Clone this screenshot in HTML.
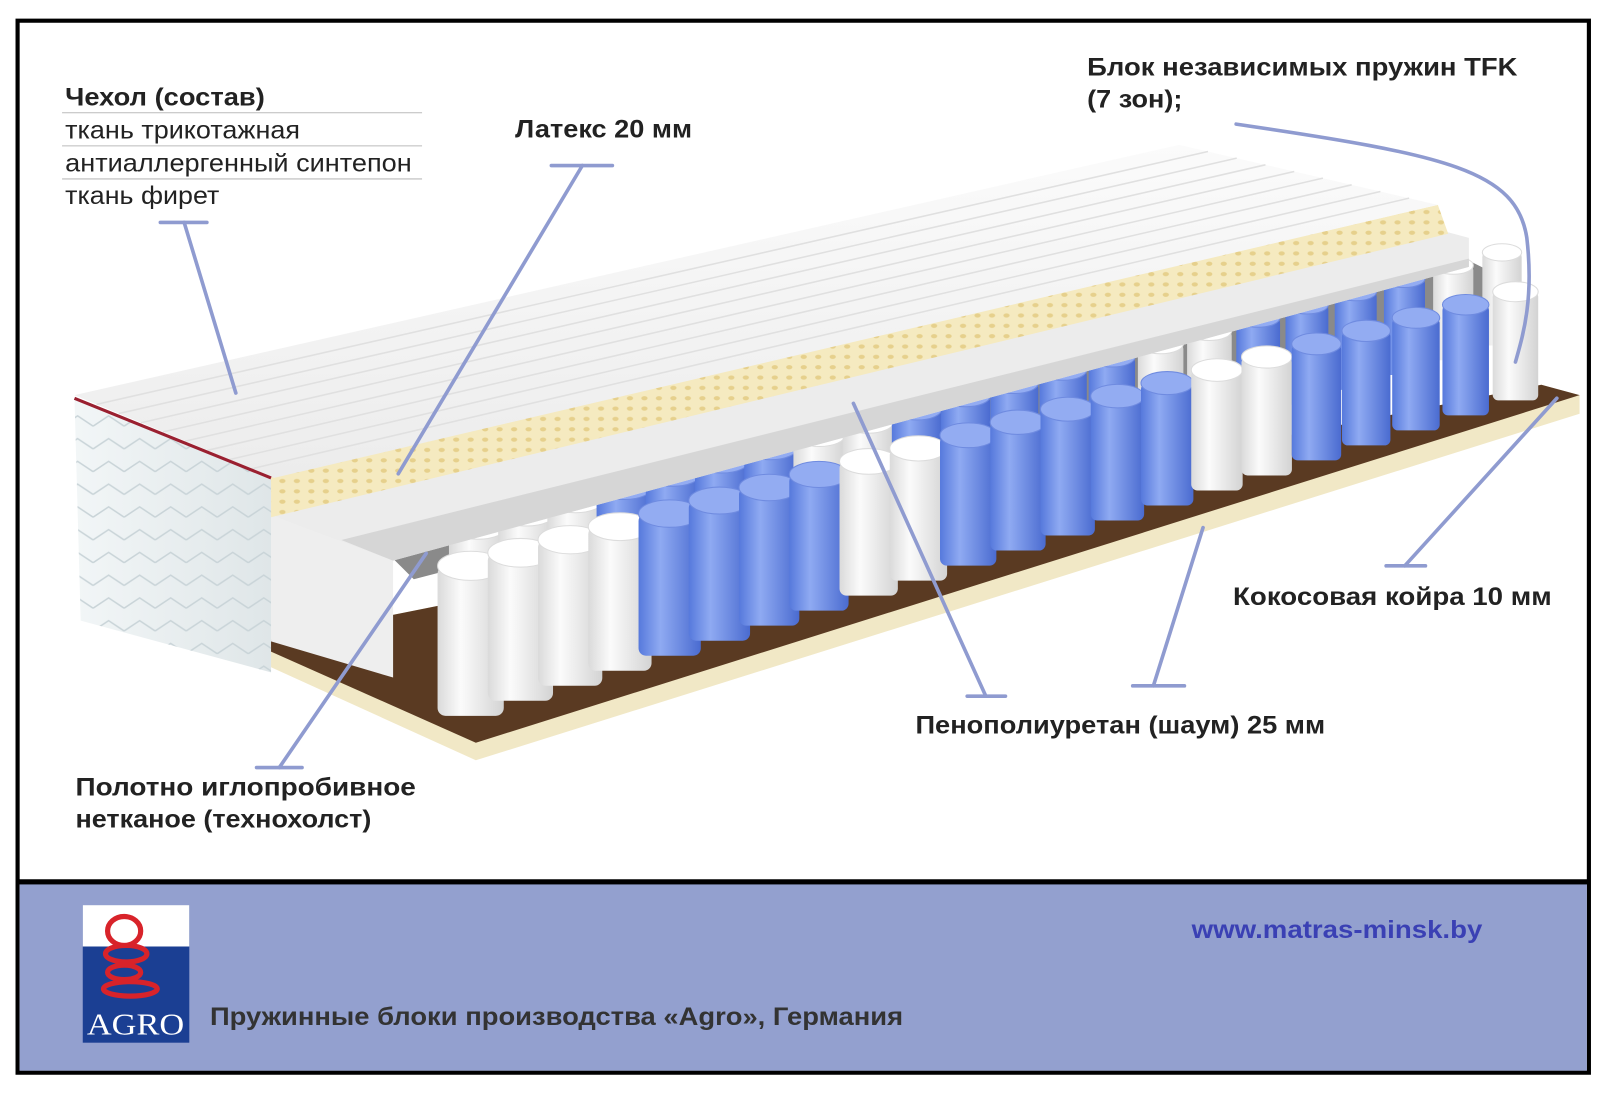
<!DOCTYPE html>
<html><head><meta charset="utf-8"><style>
html,body{margin:0;padding:0;background:#fff;}
svg{display:block;}
text{font-family:"Liberation Sans Narrow","Liberation Sans",sans-serif;font-size:24px;}
.b{font-weight:bold;fill:#222;}
.n{fill:#222;}
</style></head><body>
<svg id="s" width="1622" height="1112" viewBox="0 0 1568 1075" preserveAspectRatio="none" xmlns="http://www.w3.org/2000/svg">
<defs>
<linearGradient id="cov" x1="0" y1="0" x2="0" y2="1"><stop offset="0" stop-color="#fbfbfb"/><stop offset="1" stop-color="#ececec"/></linearGradient>
<linearGradient id="side" x1="0" y1="0" x2="1" y2="0"><stop offset="0" stop-color="#f2f6f7"/><stop offset="1" stop-color="#dfe6e8"/></linearGradient>
<linearGradient id="wc" x1="0" y1="0" x2="1" y2="0"><stop offset="0" stop-color="#dadada"/><stop offset="0.35" stop-color="#fbfbfb"/><stop offset="1" stop-color="#d3d3d3"/></linearGradient>
<linearGradient id="bc" x1="0" y1="0" x2="1" y2="0"><stop offset="0" stop-color="#5679dc"/><stop offset="0.35" stop-color="#8faaf2"/><stop offset="1" stop-color="#4a6bd0"/></linearGradient>
<pattern id="dots" width="14" height="10" patternUnits="userSpaceOnUse"><rect width="14" height="10" fill="#f5eac0"/><ellipse cx="7" cy="5" rx="3" ry="2" fill="#e6d08c"/></pattern>
<pattern id="zig" width="30" height="22" patternUnits="userSpaceOnUse"><polyline points="0,16 15,6 30,16" fill="none" stroke="#c9d4d8" stroke-width="1.5"/></pattern>
</defs>
<rect x="0" y="0" width="1568" height="1075" fill="#fff"/>
<rect x="17" y="20" width="1519" height="1017" fill="none" stroke="#000" stroke-width="4"/>
<rect x="19" y="853" width="1515" height="182" fill="#93a0cf"/>
<rect x="17" y="850" width="1519" height="5" fill="#000"/>

<!-- mattress bottom layers -->
<polygon points="262,618 1490,372 1527,382 1527,400 460,735 262,645" fill="#f1e8c6"/>
<polygon points="262,618 1490,372 1527,382 460,718 262,630" fill="#5a3a22"/>
<polygon points="380,540 1420,252 1440,262 1440,290 400,560" fill="#8a8a8a"/>
<g id="springs"></g>
<!-- foam left block -->
<polygon points="262,498 380,540 380,655 262,620" fill="#eeeeee"/>
<!-- foam strip -->
<polygon points="262,498 1398,224 1420,230 1420,258 380,542" fill="#ececec"/>
<polygon points="330,522 1420,250 1420,258 380,542" fill="#d6d6d6"/>
<!-- latex -->
<polygon points="262,460 1390,198 1400,226 262,500" fill="url(#dots)"/>
<!-- cover top -->
<polygon points="72,382 1140,140 1390,198 265,462" fill="url(#cov)"/>
<g id="quilt" stroke="#e0e0e0" stroke-width="1.5" fill="none"></g>
<!-- cover side -->
<polygon points="72,385 262,462 262,650 78,600" fill="url(#side)"/>
<polygon points="72,385 262,462 262,650 78,600" fill="url(#zig)"/>
<polyline points="72,385 262,462" stroke="#9a2030" stroke-width="3" fill="none"/>

<g stroke="#8f9bd0" stroke-width="3.5" fill="none" stroke-linecap="round">
<line x1="155" y1="215" x2="200" y2="215"/><line x1="178" y1="215" x2="228" y2="380"/>
<line x1="533" y1="160" x2="592" y2="160"/><line x1="563" y1="160" x2="385" y2="458"/>
<path d="M1195,120 C1400,150 1466,165 1476,230 C1483,290 1472,325 1465,350"/>
<line x1="1340" y1="547" x2="1378" y2="547"/><line x1="1358" y1="547" x2="1505" y2="385"/>
<line x1="935" y1="673" x2="972" y2="673"/><line x1="953" y1="673" x2="825" y2="390"/>
<line x1="1095" y1="663" x2="1145" y2="663"/><line x1="1115" y1="663" x2="1163" y2="510"/>
<line x1="248" y1="742" x2="292" y2="742"/><line x1="270" y1="742" x2="412" y2="535"/>
</g>

<text x="63" y="102" class="b" textLength="193" lengthAdjust="spacingAndGlyphs">Чехол (состав)</text>
<g stroke="#bbb" stroke-width="1"><line x1="60" y1="109" x2="408" y2="109"/><line x1="60" y1="141" x2="408" y2="141"/><line x1="60" y1="173" x2="408" y2="173"/></g>
<text x="63" y="134" class="n" textLength="227" lengthAdjust="spacingAndGlyphs">ткань трикотажная</text>
<text x="63" y="166" class="n" textLength="335" lengthAdjust="spacingAndGlyphs">антиаллергенный синтепон</text>
<text x="63" y="197" class="n" textLength="149" lengthAdjust="spacingAndGlyphs">ткань фирет</text>
<text x="498" y="133" class="b" textLength="171" lengthAdjust="spacingAndGlyphs">Латекс 20 мм</text>
<text x="1051" y="73" class="b" textLength="416" lengthAdjust="spacingAndGlyphs">Блок независимых пружин TFK</text>
<text x="1051" y="104" class="b" textLength="92" lengthAdjust="spacingAndGlyphs">(7 зон);</text>
<text x="1192" y="585" class="b" textLength="308" lengthAdjust="spacingAndGlyphs">Кокосовая койра 10 мм</text>
<text x="885" y="709" class="b" textLength="396" lengthAdjust="spacingAndGlyphs">Пенополиуретан (шаум) 25 мм</text>
<text x="73" y="769" class="b" textLength="329" lengthAdjust="spacingAndGlyphs">Полотно  иглопробивное</text>
<text x="73" y="800" class="b" textLength="286" lengthAdjust="spacingAndGlyphs">нетканое (технохолст)</text>
<text x="1152" y="907" style="font-weight:bold;fill:#3a40b4" textLength="281" lengthAdjust="spacingAndGlyphs">www.matras-minsk.by</text>
<text x="203" y="991" style="font-weight:bold;fill:#333" textLength="670" lengthAdjust="spacingAndGlyphs">Пружинные блоки производства «Agro», Германия</text>

<rect x="80" y="875" width="103" height="133" fill="#1b3f93"/>
<rect x="80" y="875" width="103" height="40" fill="#fff"/>
<g fill="none" stroke="#d8232a" stroke-width="5">
<ellipse cx="120" cy="900" rx="16" ry="14"/><ellipse cx="122" cy="922" rx="20" ry="8"/><ellipse cx="120" cy="940" rx="16" ry="7"/><ellipse cx="126" cy="956" rx="26" ry="7"/>
</g>
<text x="84" y="1000" style="fill:#fff;font-family:'Liberation Serif',serif;font-size:30px" textLength="94" lengthAdjust="spacingAndGlyphs">AGRO</text>
</svg>
<script>
(function(){
var NS="http://www.w3.org/2000/svg";
var g=document.getElementById("springs");
function cyl(cx,by,h,w,blue){
  var c=blue?"url(#bc)":"url(#wc)";
  var r=document.createElementNS(NS,"rect");
  r.setAttribute("x",cx-w/2);r.setAttribute("y",by-h);r.setAttribute("width",w);r.setAttribute("height",h);
  r.setAttribute("rx",w*0.12);r.setAttribute("fill",c);g.appendChild(r);
  var e=document.createElementNS(NS,"ellipse");
  e.setAttribute("cx",cx);e.setAttribute("cy",by-h);e.setAttribute("rx",w/2);e.setAttribute("ry",w*0.22);
  e.setAttribute("fill",blue?"#93acf2":"#ffffff");e.setAttribute("stroke",blue?"#6f8be0":"#dcdcdc");g.appendChild(e);
}
var pat="WWWWBBBBWWBBBBBWWBBBBWW";
var n=22;
for(var i=0;i<n;i++){
  var t=i/(n-1);
  var cx=440+t*990+22, by=652-t*300-18, h=125-t*35, w=56-t*18;
  cyl(cx,by,h,w,pat[(i+1)%pat.length]=="B");
}
for(var i=0;i<n;i++){
  var t=i/(n-1);
  var cx=455+t*1010, by=692-t*305, h=145-t*40, w=64-t*20;
  cyl(cx,by,h,w,pat[i]=="B");
}
var q=document.getElementById("quilt");
for(var k=1;k<9;k++){
  var t=k/9;
  var x1=72+(265-72)*t, y1=382+(462-382)*t, x2=1140+(1390-1140)*t, y2=140+(198-140)*t;
  var p=document.createElementNS(NS,"line");
  p.setAttribute("x1",x1);p.setAttribute("y1",y1);p.setAttribute("x2",x2);p.setAttribute("y2",y2);
  q.appendChild(p);
}
})();
</script>
</body></html>
